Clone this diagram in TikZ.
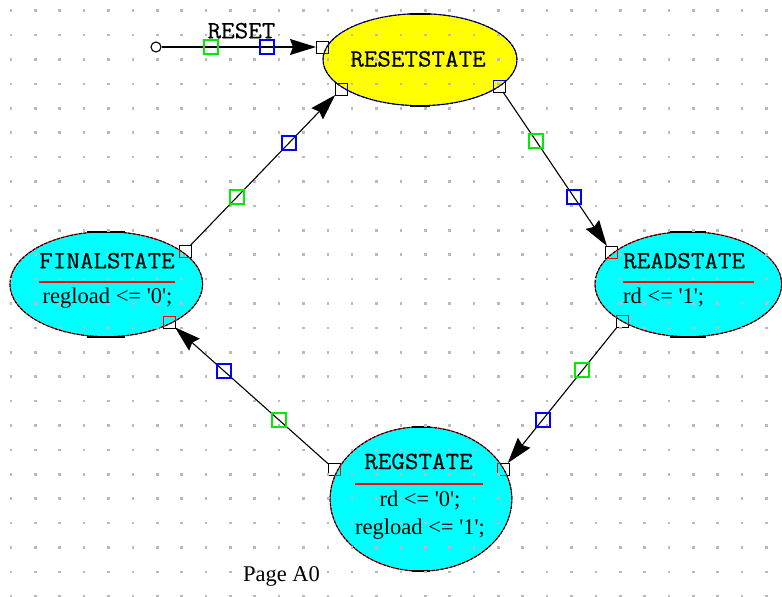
\documentclass[tikz,border=0pt]{standalone}
\usepackage{fontspec}
\setmainfont{Liberation Serif}
\newfontfamily\capsfont[FakeBold=0.4,FakeStretch=1.06]{Latin Modern Mono}
\usetikzlibrary{shapes.geometric,arrows.meta,calc}
\definecolor{stcyan}{RGB}{0,255,255}
\definecolor{styellow}{RGB}{255,255,0}
\definecolor{mkgreen}{RGB}{0,235,0}
% straight apostrophe for VHDL literals
\newcommand\tq{\textquotesingle}
% wide slab-serif capitals for state names
\newcommand\capstext[1]{{\capsfont\fontsize{24.8}{25}\selectfont #1}}
\begin{document}
\begin{tikzpicture}[x=1pt,y=-1pt,
  gridpt/.style={fill=black!27},
  port/.style={rectangle,draw=black,fill=white,line width=1pt,minimum size=12pt,inner sep=0pt,outer sep=0pt},
  greenbox/.style={rectangle,draw=mkgreen,line width=2pt,minimum size=14pt,inner sep=0pt},
  bluebox/.style={rectangle,draw=blue,line width=2pt,minimum size=14pt,inner sep=0pt},
  state/.style={ellipse,draw=red,fill=stcyan,line width=1pt,inner sep=0pt,outer sep=0pt,
    postaction={draw=black,line width=1pt,dash pattern=on 3pt off 1.5pt}},
  resetst/.style={state,draw=blue,fill=styellow},
  conn/.style={draw=black,line width=1.1pt,-{Stealth[length=26pt,width=16pt,inset=3pt]}},
  title/.style={anchor=base,inner sep=0pt},
  action/.style={anchor=base,inner sep=0pt,font=\fontsize{22.5}{24}\selectfont},
  sep/.style={draw=red,line width=2pt},
  flat/.style={draw=black,line width=1.8pt}
]
\useasboundingbox[fill=white] (0,0) rectangle (782,597);

% connection ports on the state outlines
\node[port] (rsin)   at (322,47)  {};
\node[port] (rsbl)   at (341,89)  {};
\node[port] (rsbr)   at (499,86)  {};
\node[port] (rdin)   at (611,252) {};
\node[port] (rdout)  at (622,321) {};
\node[port] (regin)  at (503,469) {};
\node[port] (regout) at (334,469) {};
\node[port] (fin)    at (169,322) {};
\node[port] (fout)   at (185,251) {};

% states
\node[resetst,minimum width=194pt,minimum height=92pt]   (rs)  at (420,59.7)  {};
\node[state,minimum width=192.7pt,minimum height=105pt]  (fs)  at (106.3,284.2) {};
\node[state,minimum width=186.7pt,minimum height=105pt]  (rd)  at (688.3,284.2) {};
\node[state,minimum width=181.7pt,minimum height=144.3pt] (reg) at (421,499) {};

% flat extremes of the outlines
\draw[flat] ($(rs.north)+(-10,0)$) -- ($(rs.north)+(10,0)$);
\draw[flat] ($(rs.south)+(-10,0)$) -- ($(rs.south)+(10,0)$);
\draw[flat] ($(fs.north)+(-19,0)$) -- ($(fs.north)+(19,0)$);
\draw[flat] ($(fs.south)+(-19,0)$) -- ($(fs.south)+(19,0)$);
\draw[flat] ($(rd.north)+(-18,0)$) -- ($(rd.north)+(18,0)$);
\draw[flat] ($(rd.south)+(-18,0)$) -- ($(rd.south)+(18,0)$);
\draw[flat] ($(reg.north)+(-9,0)$) -- ($(reg.north)+(9,0)$);
\draw[flat] ($(reg.south)+(-9,0)$) -- ($(reg.south)+(9,0)$);

% port edges lying inside a state take the outline colour
\begin{scope}
  \clip (rs.center) ellipse [x radius=97pt,y radius=46pt];
  \foreach \p in {rsin,rsbl,rsbr}
    \draw[blue,line width=1pt] (\p.south west) rectangle (\p.north east);
\end{scope}
\begin{scope}
  \clip (fs.center) ellipse [x radius=96.35pt,y radius=52.5pt];
  \foreach \p in {fin,fout}
    \draw[red,line width=1pt] (\p.south west) rectangle (\p.north east);
\end{scope}
\begin{scope}
  \clip (rd.center) ellipse [x radius=93.35pt,y radius=52.5pt];
  \foreach \p in {rdin,rdout}
    \draw[red,line width=1pt] (\p.south west) rectangle (\p.north east);
\end{scope}
\begin{scope}
  \clip (reg.center) ellipse [x radius=90.85pt,y radius=72.15pt];
  \foreach \p in {regin,regout}
    \draw[red,line width=1pt] (\p.south west) rectangle (\p.north east);
\end{scope}

% drawing grid
\foreach \i in {0,...,31}
  \foreach \j in {0,...,24}
    \fill[gridpt] ({11+24.37*\i-1.3},{10.7+24.4*\j-1.3}) rectangle ++(2.6,2.6);

% reset entry
\node[circle,draw=black,fill=white,line width=1.1pt,minimum size=10pt,inner sep=0pt] (start) at (156,47) {};
\draw[conn] (start) -- (rsin);

% transitions
\draw[conn] (fout) -- (rsbl);
\draw[conn] (rsbr) -- (rdin);
\draw[conn] (rdout) -- (regin);
\draw[conn] (regout) -- (fin);

% transition markers, at one and two thirds of each transition
\node[greenbox] (m1g) at (211,47)  {};
\node[bluebox]  (m1b) at (267,47)  {};
\node[greenbox] (m2g) at (237,197) {};
\node[bluebox]  (m2b) at (289,143) {};
\node[greenbox] (m3g) at (536,141) {};
\node[bluebox]  (m3b) at (574,197) {};
\node[greenbox] (m4g) at (582,370) {};
\node[bluebox]  (m4b) at (543,420) {};
\node[greenbox] (m5g) at (279,420) {};
\node[bluebox]  (m5b) at (224,371) {};

% state names, separators and actions
\node[title] (rst) at (418,66.5) {\capstext{RESETSTATE}};

\node[title] (fst) at (107,268.3) {\capstext{FINALSTATE}};
\draw[sep] (39,282) -- (175,282);
\node[action] (fa1) at (107.5,303) {regload <= \tq0\tq;};

\node[title,anchor=base west] (rdt) at (623,268.3) {\capstext{READSTATE}};
\draw[sep] (623,282) -- (754,282);
\node[action,anchor=base west] (rda1) at (623,303.5) {rd <= \tq1\tq;};

\node[title] (regt) at (418.5,469) {\capstext{REGSTATE}};
\draw[sep] (355,484) -- (483,484);
\node[action] (rega1) at (420,506.5) {rd <= \tq0\tq;};
\node[action] (rega2) at (420,534) {regload <= \tq1\tq;};

% labels
\node[title] (rlab) at (241.5,38.3) {\capstext{RESET}};
\node[action] (page) at (281.5,581) {Page A0};
\end{tikzpicture}
\end{document}
